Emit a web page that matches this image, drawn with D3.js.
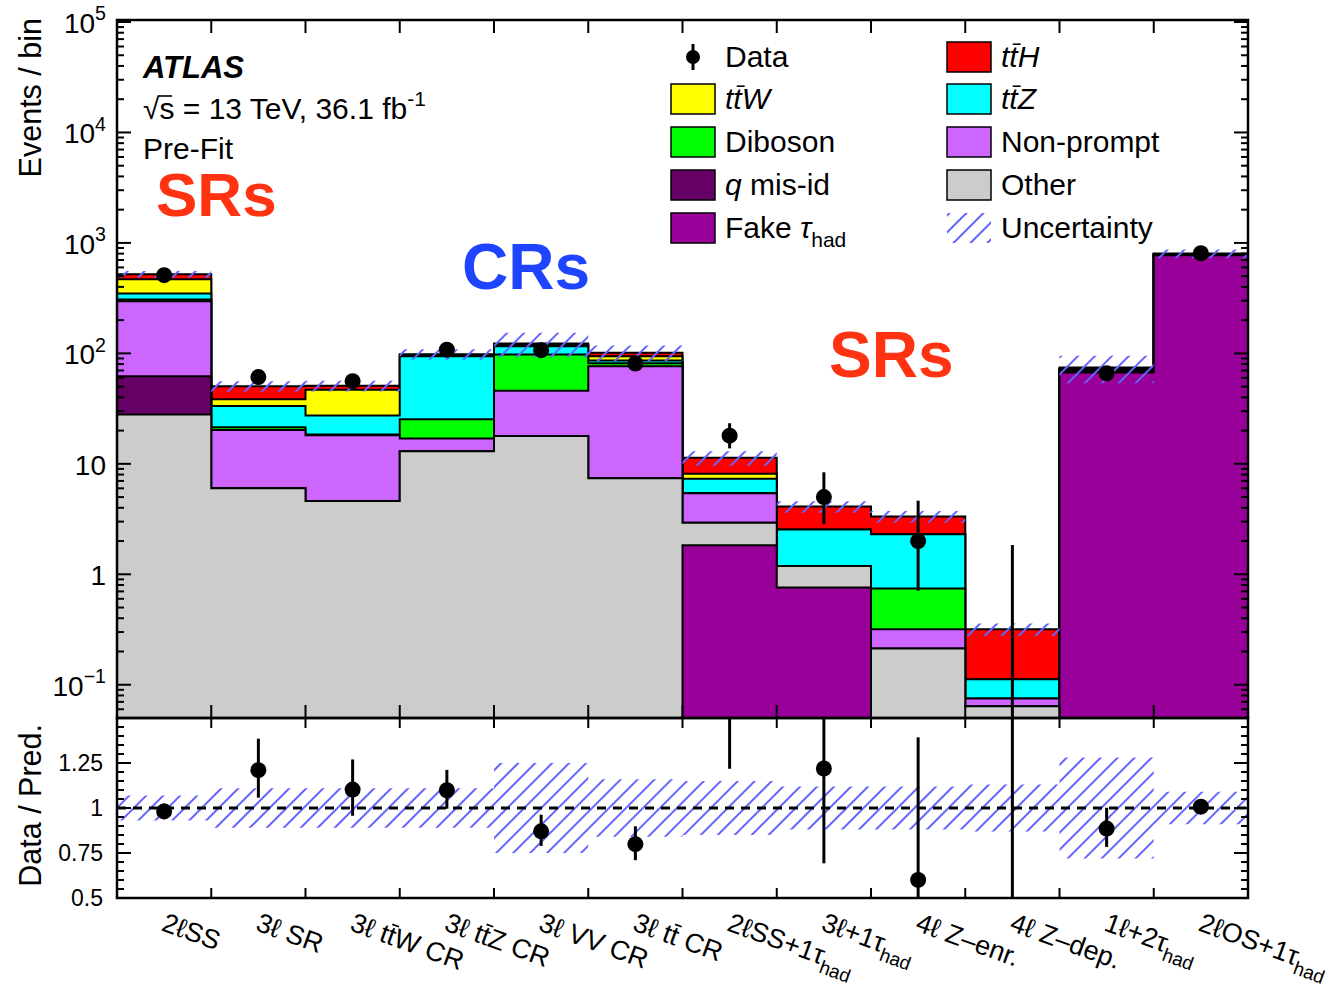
<!DOCTYPE html>
<html>
<head>
<meta charset="utf-8">
<title>ttH multilepton pre-fit yields</title>
<script src="https://d3js.org/d3.v7.min.js"></script>
<style>
body { margin: 0; background: #fff; }
text { font-family: "Liberation Sans", Arial, Helvetica, sans-serif; white-space: pre; }
</style>
</head>
<body>
<script>
// bin labels (\u0304 = bar over previous letter, _{..} = subscript)
var categories = ["2ℓSS", "3ℓ SR", "3ℓ tt\u0304W CR", "3ℓ tt\u0304Z CR", "3ℓ VV CR", "3ℓ tt\u0304 CR",
                  "2ℓSS+1τ_{had}", "3ℓ+1τ_{had}", "4ℓ Z\u2013enr.", "4ℓ Z\u2013dep.", "1ℓ+2τ_{had}", "2ℓOS+1τ_{had}"];

// stacked backgrounds, bottom to top
var fakeTau   = [0, 0, 0, 0, 0, 0, 1.83, 0.76, 0, 0, 67, 775];
var other     = [28, 6.0, 4.6, 13, 17.9, 7.4, 1.1, 0.43, 0.213, 0.064, 2, 10];
var qMisId    = [34, 0, 0, 0, 0, 0, 0, 0, 0, 0, 0, 0];
var nonPrompt = [234, 14.2, 13.5, 4, 28, 69, 2.5, 0, 0.105, 0.011, 1, 3];
var diboson   = [12, 1.2, 0.3, 8.3, 52, 5, 0, 0, 0.424, 0, 0.5, 2];
var ttZ       = [40, 12, 9, 69, 18, 5, 1.9, 1.36, 1.56, 0.037, 1.5, 3];
var ttW       = [120, 5, 19.4, 2, 3, 8, 0.8, 0, 0, 0, 0.5, 1];
var ttH       = [52, 12, 4, 2, 4, 7, 3.2, 1.55, 1.03, 0.206, 2, 6];

// relative uncertainty of the prediction
var uncert = [0.07, 0.11, 0.11, 0.11, 0.25, 0.16, 0.15, 0.12, 0.12, 0.13, 0.28, 0.09];

// data with (asymmetric) error bounds
var data   = [510, 61, 56, 108, 107, 81, 18, 5, 2, 0, 66, 806];
var dataLo = [487.9, 53.3, 48.6, 97.9, 97.0, 72.0, 13.8, 2.84, 0.71, 0, 58.4, 778.1];
var dataHi = [533.1, 69.8, 64.5, 119.1, 118.3, 91.1, 23.3, 8.38, 4.64, 1.84, 74.6, 834.9];

var ratioTicks = [0.5, 0.75, 1, 1.25];

var layers = [
  {key: 'fakeTau',   values: fakeTau,   color: '#990099'},
  {key: 'other',     values: other,     color: '#cccccc'},
  {key: 'qMisId',    values: qMisId,    color: '#660066'},
  {key: 'nonPrompt', values: nonPrompt, color: '#cc66ff'},
  {key: 'diboson',   values: diboson,   color: '#00ff00'},
  {key: 'ttZ',       values: ttZ,       color: '#00ffff'},
  {key: 'ttW',       values: ttW,       color: '#ffff00'},
  {key: 'ttH',       values: ttH,       color: '#ff0000'}
];
var colorOf = {};
var running = categories.map(function(){ return 0; });
layers.forEach(function(l){
  running = running.map(function(r, i){ return r + l.values[i]; });
  l.cum = running.slice();
  colorOf[l.key] = l.color;
});
var total = running;

var w = 1342, h = 988;
var x0 = 117, x1 = 1248, ySplit = 718, yBot = 898;
var nb = categories.length;

var svg = d3.select('body').append('svg').attr('width', w).attr('height', h);

var xl = d3.scaleLinear().domain([0, nb]).range([x0, x1]);
var y = d3.scaleLog().domain([0.05, 1e5]).range([ySplit, 22]).clamp(true);
var yr = d3.scaleLinear().domain([0.5, 1.5]).range([yBot, ySplit]);
var yTop = y(1e5) - 2;

var defs = svg.append('defs');
defs.append('pattern').attr('id', 'hatch')
    .attr('patternUnits', 'userSpaceOnUse')
    .attr('width', 12).attr('height', 12)
    .attr('patternTransform', 'rotate(45)')
  .append('line')
    .attr('x1', 6).attr('y1', 0).attr('x2', 6).attr('y2', 12)
    .attr('stroke', '#6464ff').attr('stroke-width', 2);
defs.append('clipPath').attr('id', 'clipMain').append('rect')
    .attr('x', x0).attr('y', yTop).attr('width', x1 - x0).attr('height', ySplit - yTop);
defs.append('clipPath').attr('id', 'clipRatio').append('rect')
    .attr('x', x0).attr('y', ySplit).attr('width', x1 - x0).attr('height', yBot - ySplit);

function steps(arr) {
  return d3.range(nb + 1).map(function(i){ return [i, arr[Math.min(i, nb - 1)], i]; });
}

// ---- main panel: stack
var gMain = svg.append('g').attr('clip-path', 'url(#clipMain)');
var area = d3.area().curve(d3.curveStepAfter)
    .x(function(d){ return xl(d[0]); })
    .y0(ySplit)
    .y1(function(d){ return y(Math.max(d[1], 1e-6)); });
var line = d3.line().curve(d3.curveStepAfter)
    .x(function(d){ return xl(d[0]); })
    .y(function(d){ return y(Math.max(d[1], 1e-6)); });

layers.slice().reverse().forEach(function(l){
  gMain.append('path').attr('d', area(steps(l.cum))).attr('fill', l.color);
  gMain.append('path').attr('d', line(steps(l.cum)))
       .attr('fill', 'none').attr('stroke', '#000').attr('stroke-width', 2);
});

// uncertainty band
var band = d3.area().curve(d3.curveStepAfter)
    .x(function(d){ return xl(d[0]); })
    .y0(function(d){ var i = Math.min(d[0], nb - 1); return y(total[i] * (1 - uncert[i])); })
    .y1(function(d){ var i = Math.min(d[0], nb - 1); return y(total[i] * (1 + uncert[i])); });
gMain.append('path').attr('d', band(steps(total))).attr('fill', 'url(#hatch)');

// data
data.forEach(function(v, i){
  var cx = xl(i + 0.5);
  gMain.append('line').attr('x1', cx).attr('x2', cx)
       .attr('y1', y(Math.max(dataLo[i], 1e-6))).attr('y2', y(dataHi[i]))
       .attr('stroke', '#000').attr('stroke-width', 3);
  if (v > 0) gMain.append('circle').attr('cx', cx).attr('cy', y(v)).attr('r', 8).attr('fill', '#000');
});

// ---- ratio panel
var gRatio = svg.append('g').attr('clip-path', 'url(#clipRatio)');
var rband = d3.area().curve(d3.curveStepAfter)
    .x(function(d){ return xl(d[0]); })
    .y0(function(d){ return yr(1 - uncert[Math.min(d[0], nb - 1)]); })
    .y1(function(d){ return yr(1 + uncert[Math.min(d[0], nb - 1)]); });
gRatio.append('path').attr('d', rband(steps(total))).attr('fill', 'url(#hatch)');
gRatio.append('line').attr('x1', x0).attr('x2', x1).attr('y1', yr(1)).attr('y2', yr(1))
      .attr('stroke', '#000').attr('stroke-width', 3).attr('stroke-dasharray', '9,7');
data.forEach(function(v, i){
  var cx = xl(i + 0.5), t = total[i];
  gRatio.append('line').attr('x1', cx).attr('x2', cx)
        .attr('y1', yr(dataLo[i] / t)).attr('y2', yr(dataHi[i] / t))
        .attr('stroke', '#000').attr('stroke-width', 3);
  gRatio.append('circle').attr('cx', cx).attr('cy', yr(v / t)).attr('r', 8).attr('fill', '#000');
});

// ---- frames and ticks
var axes = svg.append('g').attr('stroke', '#000').attr('stroke-width', 2);
axes.append('rect').attr('x', x0).attr('y', yTop).attr('width', x1 - x0).attr('height', ySplit - yTop)
    .attr('fill', 'none').attr('stroke-width', 2.5);
axes.append('rect').attr('x', x0).attr('y', ySplit).attr('width', x1 - x0).attr('height', yBot - ySplit)
    .attr('fill', 'none').attr('stroke-width', 2.5);

function vtick(v, yy, len) {
  axes.append('line').attr('x1', x0).attr('x2', x0 + len).attr('y1', yy).attr('y2', yy);
  axes.append('line').attr('x1', x1).attr('x2', x1 - len).attr('y1', yy).attr('y2', yy);
}
for (var e = -2; e <= 5; e++) {
  for (var k = 1; k <= 9; k++) {
    var v = k * Math.pow(10, e);
    if (v < 0.05 || v > 1e5) continue;
    vtick(v, y(v), k === 1 ? 14 : 7);
  }
}
for (var r = 0.5; r <= 1.5001; r += 0.05) {
  var major = Math.abs(r * 4 - Math.round(r * 4)) < 1e-6;
  vtick(r, yr(r), major ? 14 : 7);
}
for (var i = 1; i < nb; i++) {
  var xx = xl(i);
  axes.append('line').attr('x1', xx).attr('x2', xx).attr('y1', yTop).attr('y2', yTop + 13);
  axes.append('line').attr('x1', xx).attr('x2', xx).attr('y1', ySplit).attr('y2', ySplit - 13);
  axes.append('line').attr('x1', xx).attr('x2', xx).attr('y1', ySplit).attr('y2', ySplit + 10);
  axes.append('line').attr('x1', xx).attr('x2', xx).attr('y1', yBot).attr('y2', yBot - 10);
}

// ---- rich text helper
function rich(t, str, size) {
  var parts = str.split(/(\$[^$]+\$|_\{[^}]+\}|\^\{[^}]+\})/).filter(function(p){ return p.length; });
  var shift = 0, idx = 0, bars = [];
  parts.forEach(function(p){
    var style = 'normal', s = size, dy = 0, txt = p;
    if (p[0] === '$') { style = 'italic'; txt = p.slice(1, -1); }
    else if (p[0] === '_') { txt = p.slice(2, -1); s = size * 0.7; dy = size * 0.3; }
    else if (p[0] === '^') { txt = p.slice(2, -1); s = size * 0.7; dy = -size * 0.45; }
    var clean = '';
    for (var k = 0; k < txt.length; k++) {
      if (txt[k] === '\u0304') bars.push({i: idx + clean.length - 1, it: style === 'italic'});
      else clean += txt[k];
    }
    t.append('tspan').attr('font-style', style).attr('font-size', s).attr('dy', dy - shift).text(clean);
    shift = dy; idx += clean.length;
  });
  var parent = d3.select(t.node().parentNode);
  bars.forEach(function(b){
    var ex = t.node().getExtentOfChar(b.i);
    var off = b.it ? size * 0.1 : 0;
    parent.append('line')
      .attr('x1', ex.x + off + ex.width * 0.05).attr('x2', ex.x + off + ex.width * 1.0)
      .attr('y1', ex.y + size * 0.14).attr('y2', ex.y + size * 0.14)
      .attr('stroke', '#000').attr('stroke-width', 1.6);
  });
}

// y tick labels
var labels = svg.append('g');
for (var e2 = -1; e2 <= 5; e2++) {
  var t = labels.append('text').attr('x', 106).attr('y', y(Math.pow(10, e2)) + 11)
      .attr('text-anchor', 'end').attr('font-size', 28);
  if (e2 === 0) t.text('1');
  else if (e2 === 1) t.text('10');
  else rich(t, '10^{' + (e2 < 0 ? '\u2212' + (-e2) : e2) + '}', 28);
}
ratioTicks.forEach(function(v){
  labels.append('text').attr('x', 103).attr('y', yr(v) + 8)
    .attr('text-anchor', 'end').attr('font-size', 23).text(d3.format('')(v));
});

// axis titles
labels.append('text').attr('transform', 'translate(41,18) rotate(-90)')
  .attr('text-anchor', 'end').attr('font-size', 30.5).text('Events / bin');
labels.append('text').attr('transform', 'translate(41,724) rotate(-90)')
  .attr('text-anchor', 'end').attr('font-size', 30.5).text('Data / Pred.');

// x bin labels
categories.forEach(function(c, i){
  var g = svg.append('g').attr('transform', 'translate(' + (xl(i + 0.5) - 4) + ',930) rotate(20)');
  var t = g.append('text').attr('font-size', 27);
  rich(t, c, 27);
});

// ---- annotation texts
svg.append('text').attr('x', 143).attr('y', 78).attr('font-size', 31)
   .attr('font-weight', 'bold').attr('font-style', 'italic').text('ATLAS');
var ts = svg.append('text').attr('x', 143).attr('y', 119).attr('font-size', 30);
rich(ts, '√s = 13 TeV, 36.1 fb^{-1}', 30);
svg.append('line').attr('x1', 159).attr('x2', 172).attr('y1', 96).attr('y2', 96)
   .attr('stroke', '#000').attr('stroke-width', 1.6);
svg.append('text').attr('x', 143).attr('y', 159).attr('font-size', 30).text('Pre-Fit');

svg.append('text').attr('x', 156).attr('y', 216).attr('font-size', 62)
   .attr('font-weight', 'bold').attr('fill', '#ff3311').text('SRs');
svg.append('text').attr('x', 462).attr('y', 289).attr('font-size', 64)
   .attr('font-weight', 'bold').attr('fill', '#1f44ff').text('CRs');
svg.append('text').attr('x', 829).attr('y', 377).attr('font-size', 64)
   .attr('font-weight', 'bold').attr('fill', '#ff3311').text('SRs');

// ---- legend
var legendCols = [
  {x: 671, items: [
    {type: 'data', label: 'Data'},
    {key: 'ttW', label: '$tt\u0304W$'},
    {key: 'diboson', label: 'Diboson'},
    {key: 'qMisId', label: '$q$ mis-id'},
    {key: 'fakeTau', label: 'Fake $τ$_{had}'}
  ]},
  {x: 947, items: [
    {key: 'ttH', label: '$tt\u0304H$'},
    {key: 'ttZ', label: '$tt\u0304Z$'},
    {key: 'nonPrompt', label: 'Non-prompt'},
    {key: 'other', label: 'Other'},
    {type: 'unc', label: 'Uncertainty'}
  ]}
];
var rowY = [57, 99, 142, 185, 228];
legendCols.forEach(function(col){
  col.items.forEach(function(it, j){
    var cy = rowY[j];
    var g = svg.append('g');
    if (it.type === 'data') {
      g.append('line').attr('x1', col.x + 22).attr('x2', col.x + 22).attr('y1', cy - 13).attr('y2', cy + 13)
       .attr('stroke', '#000').attr('stroke-width', 3);
      g.append('circle').attr('cx', col.x + 22).attr('cy', cy).attr('r', 7).attr('fill', '#000');
    } else if (it.type === 'unc') {
      g.append('rect').attr('x', col.x).attr('y', cy - 15).attr('width', 44).attr('height', 30)
       .attr('fill', 'url(#hatch)');
    } else {
      g.append('rect').attr('x', col.x).attr('y', cy - 15).attr('width', 44).attr('height', 30)
       .attr('fill', colorOf[it.key]).attr('stroke', '#000').attr('stroke-width', 1.5);
    }
    var t = g.append('text').attr('x', col.x + 54).attr('y', cy + 10).attr('font-size', 30);
    rich(t, it.label, 30);
  });
});
</script>
</body>
</html>
